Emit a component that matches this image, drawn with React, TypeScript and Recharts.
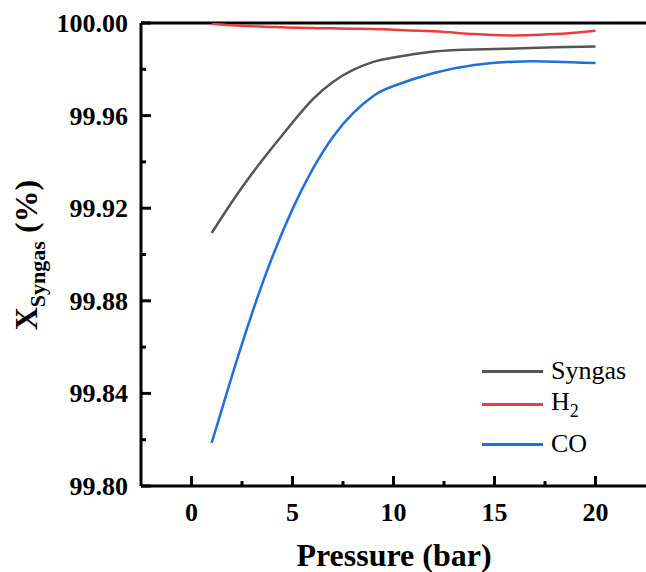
import React from 'react';
import { LineChart, Line, XAxis, YAxis, ReferenceLine, Legend, Label } from 'recharts';

// pressure in bar
const pressure = [1, 2, 3, 4, 5, 6, 7, 8, 9, 10, 12, 14, 16, 18, 20];

// conversion (%)
const syngas = [99.9093, 99.9227, 99.935, 99.9462, 99.957, 99.967, 99.9745, 99.9797, 99.9832, 99.9851, 99.9877, 99.9886, 99.989, 99.9895, 99.9899];
const h2 = [99.9997, 99.999, 99.9986, 99.9983, 99.998, 99.9978, 99.9977, 99.9975, 99.9974, 99.9971, 99.9964, 99.9952, 99.9946, 99.9952, 99.9967];
const co = [99.8186, 99.8475, 99.8747, 99.8989, 99.9196, 99.9369, 99.9508, 99.9611, 99.9685, 99.9728, 99.9784, 99.9819, 99.9833, 99.9833, 99.9827];

const seriesOrder = ['Syngas', 'H2', 'CO'];

const xTicks = [0, 2.5, 5, 7.5, 10, 12.5, 15, 17.5, 20];
const yTicks = [99.8, 99.82, 99.84, 99.86, 99.88, 99.9, 99.92, 99.94, 99.96, 99.98, 100];

const data = pressure.map((p, i) => ({ p, syngas: syngas[i], h2: h2[i], co: co[i] }));

const FONT = '"Liberation Serif", "Times New Roman", Times, serif';
const PLOT_LEFT = 141;
const PLOT_BOTTOM = 486;

const boldText = { fontFamily: FONT, fontWeight: 700 } as React.CSSProperties;

const XTick = ({ payload }: any) => {
    const x = payload.coordinate;
    const major = payload.value % 5 === 0;
    return (
        <g>
            <line x1={x} x2={x} y1={PLOT_BOTTOM} y2={PLOT_BOTTOM - (major ? 10 : 5)} stroke="#000" strokeWidth={3} />
            {major && (
                <text x={x} y={521} textAnchor="middle" style={{ ...boldText, fontSize: 26 }} fill="#000">
                    {payload.value}
                </text>
            )}
        </g>
    );
};

const YTick = ({ payload }: any) => {
    const y = payload.coordinate;
    const idx = yTicks.indexOf(payload.value);
    const major = idx % 2 === 0;
    return (
        <g>
            <line x1={PLOT_LEFT} x2={PLOT_LEFT + (major ? 10 : 5)} y1={y} y2={y} stroke="#000" strokeWidth={3} />
            {major && (
                <text x={128} y={y + 9} textAnchor="end" style={{ ...boldText, fontSize: 26 }} fill="#000">
                    {payload.value.toFixed(2)}
                </text>
            )}
        </g>
    );
};

const YTitle = () => (
    <text transform="rotate(-90)" x={-255} y={37} textAnchor="middle" style={boldText} fill="#000">
        <tspan style={{ fontSize: 32 }}>X</tspan>
        <tspan style={{ fontSize: 22 }} dy={8}>Syngas</tspan>
        <tspan style={{ fontSize: 32 }} dy={-8}> (%)</tspan>
    </text>
);

const XTitle = () => (
    <text x={394} y={566} textAnchor="middle" style={{ ...boldText, fontSize: 32 }} fill="#000">
        Pressure (bar)
    </text>
);

const renderName = (name: string) =>
    name === 'H2' ? (
        <span>
            H<sub style={{ fontSize: 18, verticalAlign: -7 }}>2</sub>
        </span>
    ) : (
        name
    );

const LegendBox = ({ payload }: any) => {
    const items = [...(payload || [])].sort(
        (a: any, b: any) => seriesOrder.indexOf(a.value) - seriesOrder.indexOf(b.value)
    );
    return (
        <div style={{ fontFamily: FONT, fontSize: 26, color: '#000' }}>
            {items.map((item: any, i: number) => (
                <div
                    key={item.value}
                    style={{ display: 'flex', alignItems: 'center', height: 26, lineHeight: 1, marginBottom: i === 1 ? 14 : 7 }}
                >
                    <div style={{ width: 61, height: 3, background: item.color, marginRight: 8 }} />
                    {renderName(item.value)}
                </div>
            ))}
        </div>
    );
};

export default function App() {
    return (
        <div style={{ position: 'absolute', left: 0, top: 0, width: 646, height: 572, background: '#fff' }}>
            <LineChart width={646} height={572} data={data} margin={{ top: 23, right: 0, left: 0, bottom: 0 }}>
                <XAxis
                    dataKey="p"
                    type="number"
                    domain={[-2.5, 22.5]}
                    ticks={xTicks}
                    height={86}
                    tick={<XTick />}
                    tickLine={false}
                    axisLine={{ stroke: '#000', strokeWidth: 3 }}
                    interval={0}
                >
                    <Label content={<XTitle />} />
                </XAxis>
                <YAxis
                    type="number"
                    domain={[99.8, 100]}
                    ticks={yTicks}
                    width={141}
                    tick={<YTick />}
                    tickLine={false}
                    axisLine={{ stroke: '#000', strokeWidth: 3 }}
                    interval={0}
                    allowDataOverflow
                >
                    <Label content={<YTitle />} />
                </YAxis>
                <ReferenceLine y={100} stroke="#000" strokeWidth={3} ifOverflow="visible" />
                <Line type="natural" dataKey="syngas" name="Syngas" stroke="#555555" strokeWidth={2.5} dot={false} isAnimationActive={false} />
                <Line type="natural" dataKey="h2" name="H2" stroke="#ee3b3f" strokeWidth={2.5} dot={false} isAnimationActive={false} />
                <Line type="natural" dataKey="co" name="CO" stroke="#1f6fdd" strokeWidth={2.5} dot={false} isAnimationActive={false} />
                <Legend
                    layout="vertical"
                    align="center"
                    verticalAlign="middle"
                    content={<LegendBox />}
                    wrapperStyle={{ position: 'absolute', left: 482, top: 358, width: 160 }}
                />
            </LineChart>
        </div>
    );
}
